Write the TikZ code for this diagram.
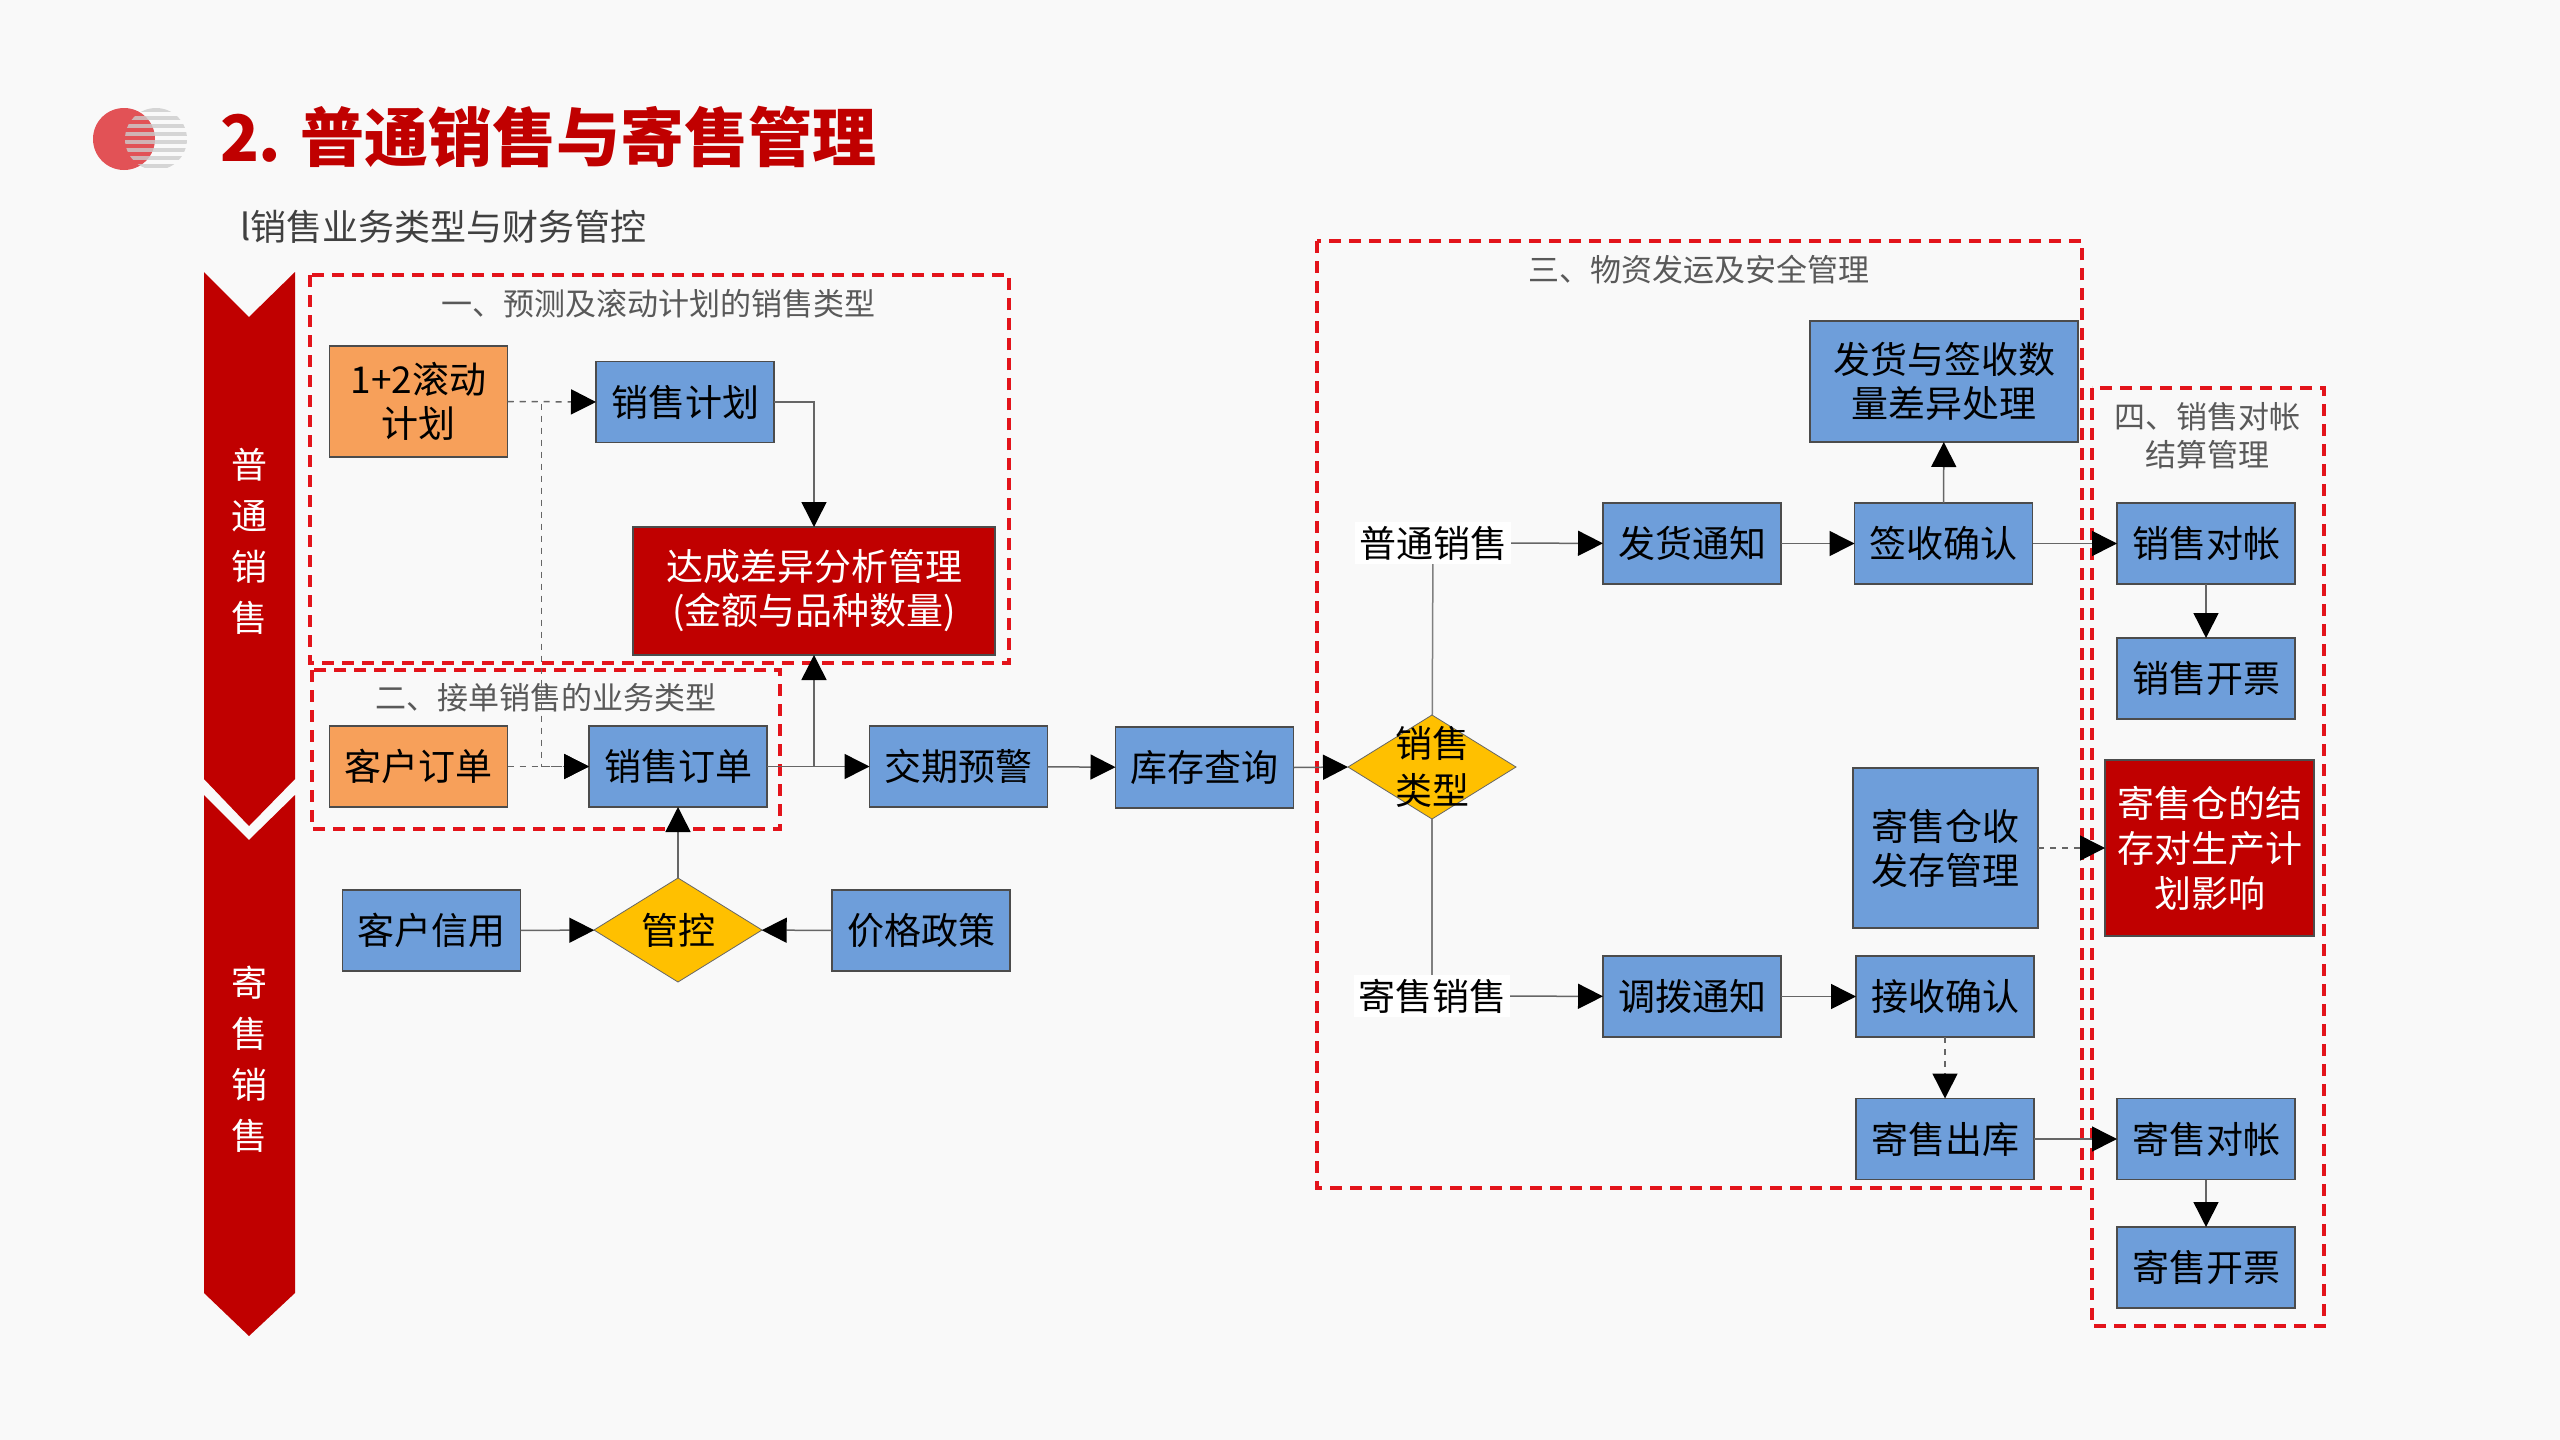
\documentclass[tikz,border=0pt]{standalone}
\usepackage{fontspec}
\setmainfont{Noto Sans CJK SC}
\usetikzlibrary{arrows.meta,shapes.geometric}
\definecolor{bandred}{HTML}{C00000}
\definecolor{boxblue}{HTML}{6E9EDA}
\definecolor{boxorange}{HTML}{F7A05A}
\definecolor{boxyellow}{HTML}{FFC000}
\definecolor{framered}{HTML}{E3141B}
\definecolor{logored}{HTML}{E25256}
\definecolor{bggray}{HTML}{F9F9F9}
\newcommand{\boxfont}{\fontsize{18.5pt}{22pt}\selectfont}
\newcommand{\framefont}{\fontsize{15.5pt}{19pt}\selectfont}

\begin{document}
\begin{tikzpicture}[x=0.5pt,y=-0.5pt,
every node/.style={inner sep=0pt,outer sep=0pt,align=center},
bx/.style={draw=black!70,line width=0.6pt,minimum width=89pt,minimum height=40.5pt,font=\boxfont},
bluebox/.style={bx,fill=boxblue},
orangebox/.style={bx,fill=boxorange},
redbox/.style={bx,fill=bandred,text=white},
choice/.style={diamond,draw=black!60,line width=0.4pt,fill=boxyellow,minimum width=84pt,minimum height=52pt},
frame/.style={draw=framered,line width=2pt,dash pattern=on 6pt off 4pt},
frametitle/.style={font=\framefont,text=black!65},
link/.style={draw=black!60,line width=0.75pt,-{Triangle[length=12.5pt,width=12.5pt,color=black]}},
plain/.style={draw=black!50,line width=0.75pt}]

% background
\fill[bggray] (0,0) rectangle (2560,1440);

% logo and headings
\fill[logored] (124,139) circle (31);
\begin{scope}
\clip (156,139) circle (31);
\foreach \y in {108,116,...,172}
  \fill[gray!40,opacity=0.8] (120,\y) rectangle (190,\y+4);
\end{scope}
\node[anchor=west,font=\fontsize{32pt}{36pt}\selectfont\bfseries,text=bandred] (title) at (220,137) {2. 普通销售与寄售管理};
\node[anchor=west,font=\fontsize{18pt}{22pt}\selectfont,text=black!75] (sub) at (240,227) {l销售业务类型与财务管控};

% left band
\fill[bandred] (204,272) -- (249,317) -- (295,272) -- (295,779) -- (249,826) -- (204,779) -- cycle;
\fill[bandred] (204,795) -- (249,840) -- (295,795) -- (295,1293) -- (249,1336) -- (204,1293) -- cycle;
\node[text=white,font=\fontsize{18pt}{25.5pt}\selectfont] (bandtop) at (249,541) {普\\通\\销\\售};
\node[text=white,font=\fontsize{18pt}{25.5pt}\selectfont] (bandbot) at (249,1059) {寄\\售\\销\\售};

% dashed frames
\draw[frame] (310,275) rectangle (1009,663);
\draw[frame] (312,670) rectangle (780,829);
\draw[frame] (1317,241) rectangle (2082,1188);
\draw[frame] (2092,388) rectangle (2324,1326);
\node[frametitle] (t1) at (658,304) {一、预测及滚动计划的销售类型};
\node[frametitle] (t2) at (546,698) {二、接单销售的业务类型};
\node[frametitle] (t3) at (1699,270) {三、物资发运及安全管理};
\node[frametitle] (t4) at (2207,436) {四、销售对帐\\结算管理};

% plain blue boxes
\foreach \n/\x/\y/\t in {plan/685/402/销售计划, order/678/766.5/销售订单,
  due/958.5/766.5/交期预警, stock/1204.5/767.5/库存查询,
  credit/431.5/930.5/客户信用, price/921/930.5/价格政策,
  ship/1692/543.5/发货通知, sign/1943.5/543.5/签收确认,
  recon/2206/543.5/销售对帐, invoice/2206/678.5/销售开票,
  transfer/1692/996.5/调拨通知, receive/1945/996.5/接收确认,
  outstock/1945/1139/寄售出库, crecon/2206/1139/寄售对帐,
  cinvoice/2206/1267.5/寄售开票}
  \node[bluebox] (\n) at (\x,\y) {\t};

% other boxes
\node[orangebox,minimum height=55.5pt] (plan12) at (418.5,401.5) {1+2滚动\\计划};
\node[orangebox] (custorder) at (418.5,766.5) {客户订单};
\node[redbox,minimum width=181pt,minimum height=64pt] (diff) at (814,591) {达成差异分析管理\\(金额与品种数量)};
\node[bluebox,minimum width=134pt,minimum height=60.5pt] (diffship) at (1944,381.5) {发货与签收数\\量差异处理};
\node[bluebox,minimum width=92.5pt,minimum height=80pt] (store) at (1945.5,848) {寄售仓收\\发存管理};
\node[redbox,minimum width=104.5pt,minimum height=88pt,font=\fontsize{18.5pt}{22.5pt}\selectfont] (impact) at (2209.5,848) {寄售仓的结\\存对生产计\\划影响};

% decisions
\node[choice] (ctrl) at (678,930) {};
\node[font=\boxfont] (ctrltext) at (ctrl) {管控};
\node[choice] (type) at (1432,767) {};
\node[font=\fontsize{18.5pt}{23.5pt}\selectfont] (typetext) at (type) {销售\\类型};
\node[fill=white,font=\boxfont,inner sep=2pt] (normal) at (1433,543) {普通销售};
\node[fill=white,font=\boxfont,inner sep=2pt] (consign) at (1432,996) {寄售销售};

% connectors, left part
\draw[link,dashed] (plan12.east) -- (plan.west);
\draw[link,dashed] (plan12.east) -- ++(34,0) |- (order.west);
\draw[link,dashed] (custorder) -- (order);
\draw[link] (plan.east) -| (diff.north);
\draw[link] (order.east) -| (diff.south);
\draw[link] (order) -- (due);
\draw[link] (due) -- (stock);
\draw[link] (stock.east) -- (type.west);
\draw[link] (credit) -- (ctrl);
\draw[link] (price) -- (ctrl);
\draw[link] (ctrl) -- (order);

% connectors, right part
\draw[plain] (type) -- (normal);
\draw[plain] (type) -- (consign);
\draw[link] (normal) -- (ship);
\draw[link] (ship) -- (sign);
\draw[link] (sign) -- (recon);
\draw[link] (sign) -- (diffship);
\draw[link] (recon) -- (invoice);
\draw[link,dashed] (store) -- (impact);
\draw[link] (consign) -- (transfer);
\draw[link] (transfer) -- (receive);
\draw[link,dashed] (receive) -- (outstock);
\draw[link] (outstock) -- (crecon);
\draw[link] (crecon) -- (cinvoice);
\end{tikzpicture}
\end{document}
